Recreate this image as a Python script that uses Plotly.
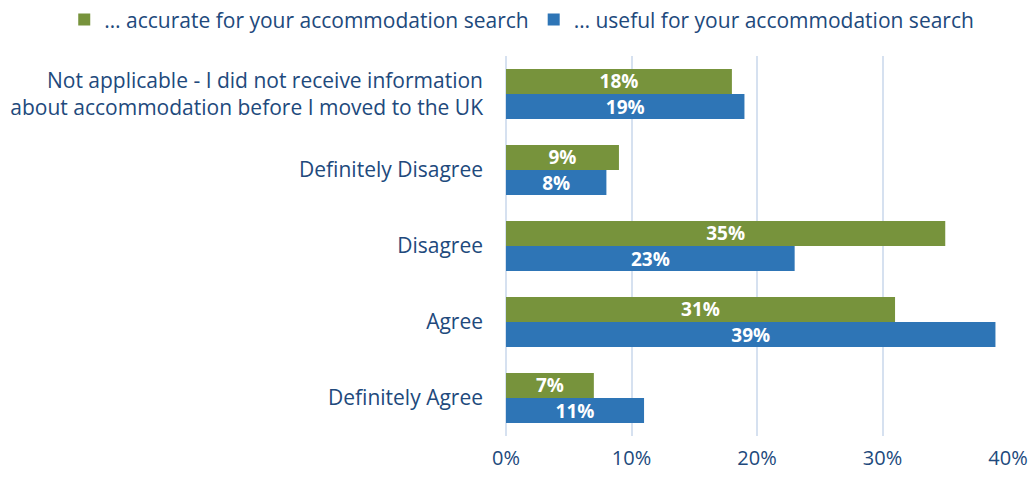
import plotly.graph_objects as go

categories = ["Not applicable - I did not receive information<br>about accommodation before I moved to the UK",
              "Definitely Disagree", "Disagree", "Agree", "Definitely Agree"]
accurate = [18, 9, 35, 31, 7]
useful = [19, 8, 23, 39, 11]
series_names = ["… accurate for your accommodation search", "… useful for your accommodation search"]
tick_vals = [0, 10, 20, 30, 40]
tick_text = ["0%", "10%", "20%", "30%", "40%"]

text_color = "#21497C"
font_family = "Open Sans, Noto Sans, sans-serif"

fig = go.Figure()
for name, vals, color in [(series_names[0], accurate, "#77933C"), (series_names[1], useful, "#2E75B6")]:
    fig.add_trace(go.Bar(
        y=categories, x=vals, name=name, orientation="h",
        marker=dict(color=color, line=dict(width=0)),
        text=[f"{v}%" for v in vals], textposition="inside", insidetextanchor="middle",
        constraintext="none",
        textfont=dict(color="white", size=19, family=font_family, weight="bold"),
        cliponaxis=False,
    ))

fig.update_layout(
    width=1035, height=477,
    barmode="group", bargap=0.34, bargroupgap=0,
    plot_bgcolor="white", paper_bgcolor="white",
    margin=dict(l=506, r=27, t=56, b=41, autoexpand=False),
    font=dict(family=font_family, color=text_color, size=21),
    legend=dict(orientation="h", xref="paper", yref="paper", x=-0.88, y=1.095,
                xanchor="left", yanchor="middle", font=dict(size=21, color=text_color),
                itemwidth=30, traceorder="normal", bgcolor="rgba(0,0,0,0)"),
    uniformtext=dict(mode="show", minsize=10),
)
fig.update_xaxes(range=[0, 40], tickvals=tick_vals, ticktext=tick_text, showgrid=True,
                 gridcolor="#D6E1F0", gridwidth=1.5, zeroline=True, zerolinecolor="#D6E1F0",
                 zerolinewidth=1.5, ticks="", tickfont=dict(size=20, color=text_color),
                 ticklabelstandoff=8, automargin=False)
fig.update_yaxes(autorange="reversed", ticks="", showgrid=False, tickfont=dict(size=21, color=text_color),
                 ticklabelstandoff=22, automargin=False)

fig.write_html("out.html", config={"displayModeBar": False},
               post_script="document.body.style.margin='0';document.body.style.overflow='hidden';")
